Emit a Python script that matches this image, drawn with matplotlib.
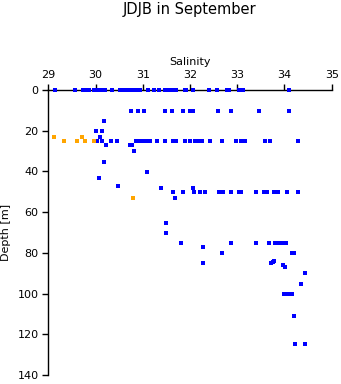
import numpy as np
import matplotlib.pyplot as plt

# salinity / depth readings, blue = main casts, orange = second set
blue_sal = [
    29.14, 29.57, 29.73, 29.79, 29.87, 29.96, 30.03, 30.10, 30.17, 30.20,
    30.34, 30.51, 30.60, 30.68, 30.74, 30.78, 30.85, 30.89, 30.95, 31.11,
    31.24, 31.34, 31.48, 31.55, 31.61, 31.71, 31.89, 31.92, 32.07, 32.40,
    32.58, 32.79, 32.83, 33.03, 33.13, 34.09,
    30.75, 30.90, 31.02, 31.48, 31.61, 31.85, 32.00, 32.04, 32.06, 32.60,
    32.86, 33.46, 34.10,
    30.18, 30.02, 30.14, 30.09,
    30.03, 30.14, 30.33, 30.46, 30.86, 30.93, 31.00, 31.07, 31.15, 31.31,
    31.47, 31.64, 31.71, 31.90, 32.00, 32.10, 32.18, 32.26, 32.42, 32.68,
    32.98, 33.09, 33.17, 33.58, 33.70, 34.28,
    30.23, 30.72, 30.78, 30.82, 30.17, 31.10, 30.08,
    30.48, 31.38, 32.07, 31.69,
    31.64, 31.86, 32.09, 32.21, 32.31, 32.61, 32.69, 32.86, 33.04, 33.07,
    33.39, 33.57, 33.62, 33.78, 33.87, 34.06, 34.28,
    31.50, 31.50, 31.82, 32.87, 33.40, 33.67, 33.80, 33.89, 33.94, 34.03,
    32.28, 32.67, 32.28, 34.15, 34.20, 33.71, 33.75, 33.78, 33.96, 34.02,
    34.44, 34.34, 34.00, 34.05, 34.10, 34.15, 34.21, 34.23, 34.44,
]
blue_depth = [0.0] * 36 + [10.3] * 13 + [15.4, 20.3, 20.3, 23.1] + [25.2] * 26 + [
    27.2, 27.2, 27.2, 30.1, 35.2, 40.4, 43.4,
    47.2, 48.0, 48.0, 53.2,
] + [50.2] * 17 + [
    65.2, 70.4, 75.3, 75.3, 75.3, 75.3, 75.3, 75.3, 75.3, 75.3,
    77.3, 80.3, 85.1, 80.3, 80.3, 85.1, 84.5, 83.8, 86.1, 87.1,
    90.0, 95.1, 100.0, 100.0, 100.0, 100.0, 111.2, 124.9, 124.9,
]

orange_sal = [29.12, 29.72, 29.33, 29.61, 29.77, 29.97, 30.80]
orange_depth = [23.1, 23.1, 25.2, 25.2, 25.2, 25.2, 53.2]

fig = plt.figure(figsize=(3.41, 3.84), dpi=100)
ax = fig.add_axes([48.3 / 341, 9 / 384, (331.7 - 48.3) / 341, (375 - 90) / 384])

# markers sit on top of the axis line at depth 0
ax.plot(blue_sal, blue_depth, 's', color='#0000ff', markersize=2.3,
        markeredgewidth=0, clip_on=False, zorder=5)
ax.plot(orange_sal, orange_depth, 's', color='#ffa500', markersize=2.3,
        markeredgewidth=0, clip_on=False, zorder=5)

ax.set_xlim(29, 35)
ax.set_ylim(140, 0)
ax.set_xticks(np.arange(29, 36, 1))
ax.set_yticks(np.arange(0, 141, 20))

ax.xaxis.tick_top()
ax.xaxis.set_label_position('top')
ax.spines['bottom'].set_visible(False)
ax.spines['right'].set_visible(False)
for s in ['top', 'left']:
    ax.spines[s].set_linewidth(1.0)
    ax.spines[s].set_zorder(1)
ax.tick_params(axis='both', direction='out', length=4, width=1.0, labelsize=8, pad=3)

ax.set_xlabel('Salinity', fontsize=8, labelpad=4)
ax.set_ylabel('Depth [m]', fontsize=8, labelpad=5)
fig.text(0.557, 1 - 9.5 / 384, 'JDJB in September', ha='center', va='center', fontsize=10.5)

fig.savefig('out.png', dpi=100)
